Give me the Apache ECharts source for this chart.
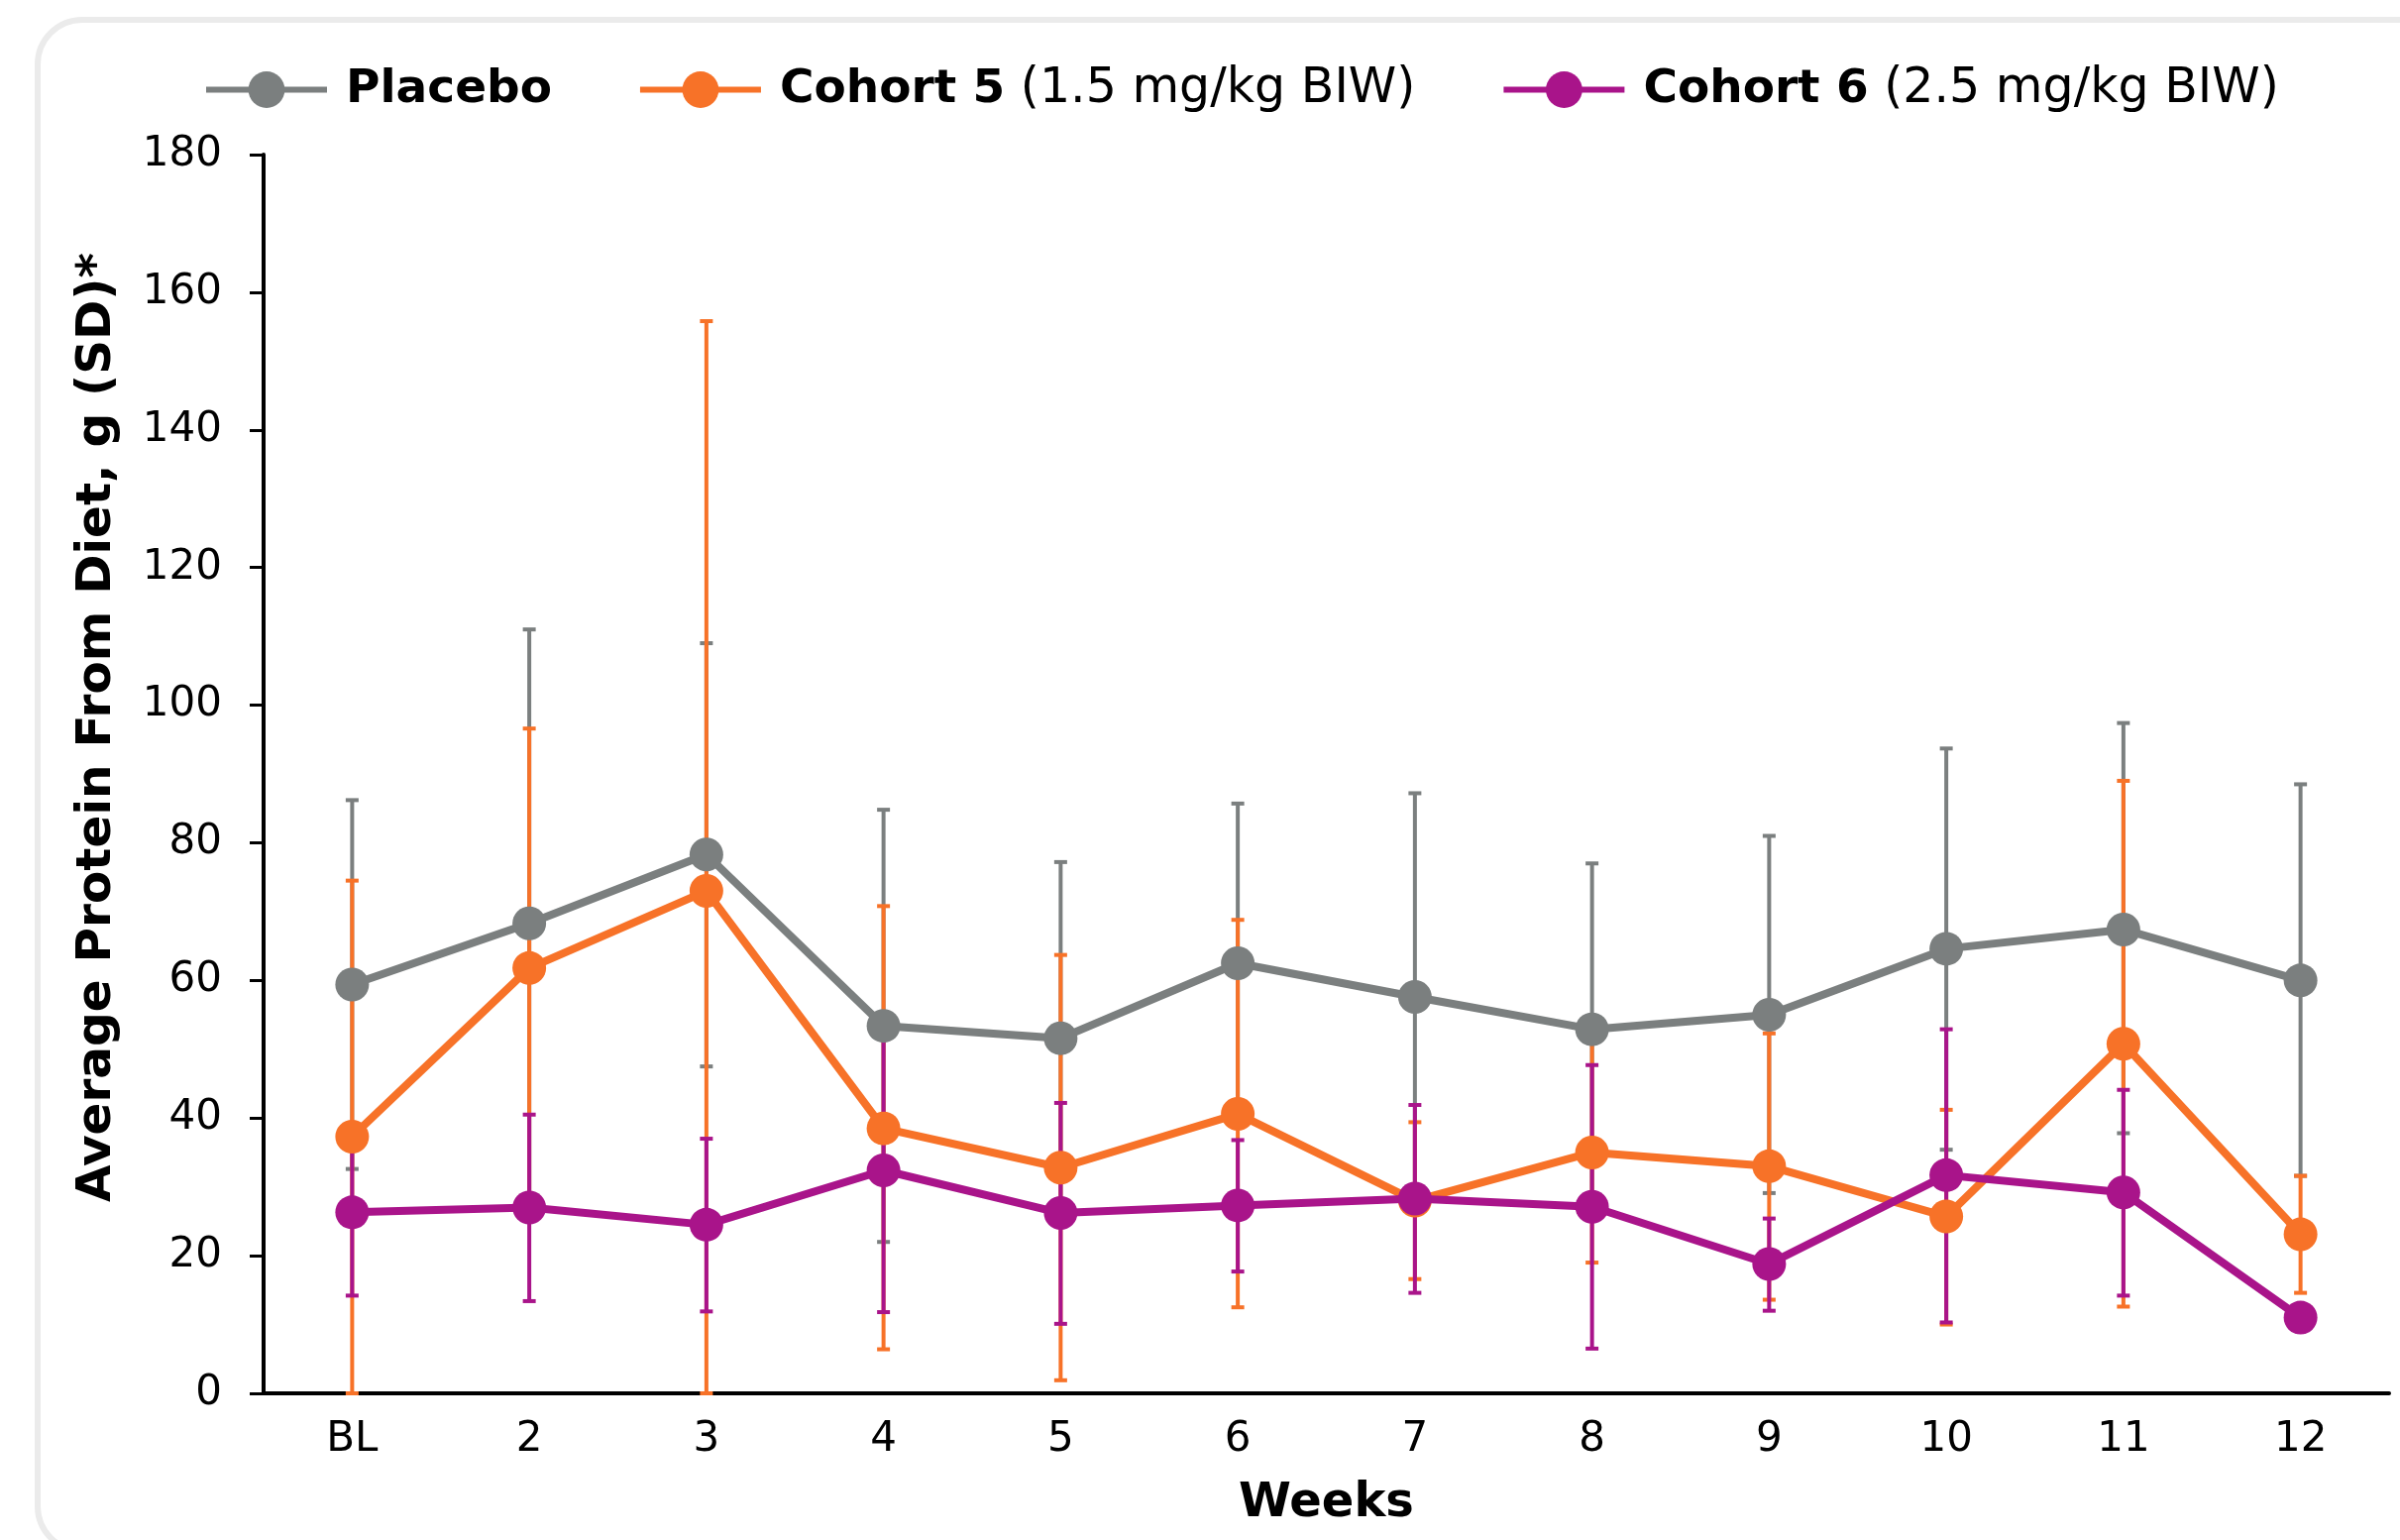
<!DOCTYPE html>
<html>
<head>
<meta charset="utf-8">
<script src="https://cdn.jsdelivr.net/npm/echarts@6/dist/echarts.min.js"></script>
<style>
  html, body { margin: 0; padding: 0; background: #fff; }
  #chart { width: 2422px; height: 1554px; }
</style>
</head>
<body>
<div id="chart"></div>
<script>
// categories
var weeks = ['BL', '2', '3', '4', '5', '6', '7', '8', '9', '10', '11', '12'];

// series names / legend text
var seriesNames = ['Placebo', 'Cohort 5', 'Cohort 6'];
var seriesDoses = ['', '(1.5 mg/kg BIW)', '(2.5 mg/kg BIW)'];

// means
var placeboMean = [59.4, 68.3, 78.3, 53.4, 51.6, 62.5, 57.6, 52.9, 55.0, 64.6, 67.4, 60.0];
var cohort5Mean = [37.3, 61.8, 73.0, 38.5, 32.8, 40.6, 28.0, 35.0, 33.0, 25.7, 50.8, 23.1];
var cohort6Mean = [26.3, 27.0, 24.5, 32.4, 26.2, 27.3, 28.3, 27.1, 18.8, 31.7, 29.2, 11.0];

// SD bars (low / high ends)
var placeboLow = [32.6, 25.6, 47.5, 22.0, 26.0, 39.3, 28.0, 28.8, 29.1, 35.4, 37.8, 31.6];
var placeboHigh = [86.2, 111.0, 109.0, 84.8, 77.2, 85.7, 87.2, 77.0, 81.0, 93.7, 97.4, 88.5];
var cohort5Low = [0, 27.0, 0, 6.4, 1.9, 12.5, 16.6, 19.0, 13.6, 10.0, 12.6, 14.6];
var cohort5High = [74.5, 96.6, 155.8, 70.8, 63.7, 68.8, 39.4, 51.0, 52.3, 41.2, 89.0, 31.6];
var cohort6Low = [14.2, 13.4, 11.9, 11.8, 10.1, 17.7, 14.6, 6.5, 12.0, 10.3, 14.2, null];
var cohort6High = [38.4, 40.5, 37.0, 53.0, 42.2, 36.8, 41.9, 47.7, 25.4, 52.9, 44.1, null];

var colors = ['#7b7f7f', '#f77228', '#a9148a'];
var FONT = 'DejaVu Sans';

function barData(low, high) {
    var out = [];
    for (var i = 0; i < low.length; i++) {
        if (low[i] == null || high[i] == null) continue;
        out.push([i, low[i], high[i]]);
    }
    return out;
}

// error bar with small caps
function renderBar(params, api) {
    var lo = api.coord([api.value(0), api.value(1)]);
    var hi = api.coord([api.value(0), api.value(2)]);
    var col = api.visual('color');
    var capW = 13, capH = 4;
    return {
        type: 'group',
        children: [
            { type: 'line', shape: { x1: lo[0], y1: lo[1], x2: hi[0], y2: hi[1] },
              style: { stroke: col, lineWidth: 4 } },
            { type: 'rect', shape: { x: hi[0] - capW / 2, y: hi[1] - capH / 2, width: capW, height: capH },
              style: { fill: col } },
            { type: 'rect', shape: { x: lo[0] - capW / 2, y: lo[1] - capH / 2, width: capW, height: capH },
              style: { fill: col } }
        ]
    };
}

var means = [placeboMean, cohort5Mean, cohort6Mean];
var bars = [barData(placeboLow, placeboHigh), barData(cohort5Low, cohort5High), barData(cohort6Low, cohort6High)];

var series = [];
for (var s = 0; s < 3; s++) {
    series.push({
        name: seriesNames[s] + '-sd',
        type: 'custom',
        renderItem: renderBar,
        data: bars[s],
        itemStyle: { color: colors[s] },
        z: 2 + s,
        silent: true
    });
}
for (var s = 0; s < 3; s++) {
    series.push({
        name: seriesNames[s],
        type: 'line',
        data: means[s],
        symbol: 'circle',
        symbolSize: 34,
        lineStyle: { width: 8, color: colors[s] },
        itemStyle: { color: colors[s] },
        z: 10 + s
    });
}

var myChart = echarts.init(document.getElementById('chart'));
var option = {
    animation: false,
    backgroundColor: '#fff',
    graphic: [{
        type: 'rect',
        shape: { x: 38, y: 20, width: 2450, height: 1545, r: 45 },
        style: { fill: 'none', stroke: '#ebebeb', lineWidth: 6 },
        z: -1
    }],
    legend: {
        data: seriesNames,
        left: 200,
        top: 61,
        itemWidth: 122,
        itemHeight: 46,
        itemGap: 86,
        lineStyle: { width: 6 },
        formatter: function (name) {
            var i = seriesNames.indexOf(name);
            return seriesDoses[i] ? '{b|' + name + '}{r| ' + seriesDoses[i] + '}' : '{b|' + name + '}';
        },
        textStyle: {
            padding: [0, 0, 0, 14],
            rich: {
                b: { fontFamily: FONT, fontWeight: 'bold', fontSize: 47, color: '#000' },
                r: { fontFamily: FONT, fontSize: 49, color: '#000' }
            }
        }
    },
    grid: { left: 266, right: 11, top: 156, bottom: 148 },
    xAxis: {
        type: 'category',
        data: weeks,
        boundaryGap: true,
        name: 'Weeks',
        nameLocation: 'middle',
        nameGap: 88,
        nameTextStyle: { fontFamily: FONT, fontWeight: 'bold', fontSize: 48, color: '#000' },
        axisLine: { lineStyle: { color: '#000', width: 4 } },
        axisTick: { show: false },
        axisLabel: { fontFamily: FONT, fontSize: 42, color: '#000', margin: 26, interval: 0 }
    },
    yAxis: {
        type: 'value',
        min: 0,
        max: 180,
        interval: 20,
        name: 'Average Protein From Diet, g (SD)*',
        nameLocation: 'middle',
        nameGap: 143,
        nameTextStyle: { fontFamily: FONT, fontWeight: 'bold', fontSize: 48.5, color: '#000', padding: [0, 0, 0, 94] },
        axisLine: { show: true, lineStyle: { color: '#000', width: 4 } },
        axisTick: { show: true, length: 14, lineStyle: { color: '#000', width: 3 } },
        axisLabel: { fontFamily: FONT, fontSize: 42, color: '#000', margin: 42 },
        splitLine: { show: false }
    },
    series: series
};
myChart.setOption(option);
</script>
</body>
</html>
